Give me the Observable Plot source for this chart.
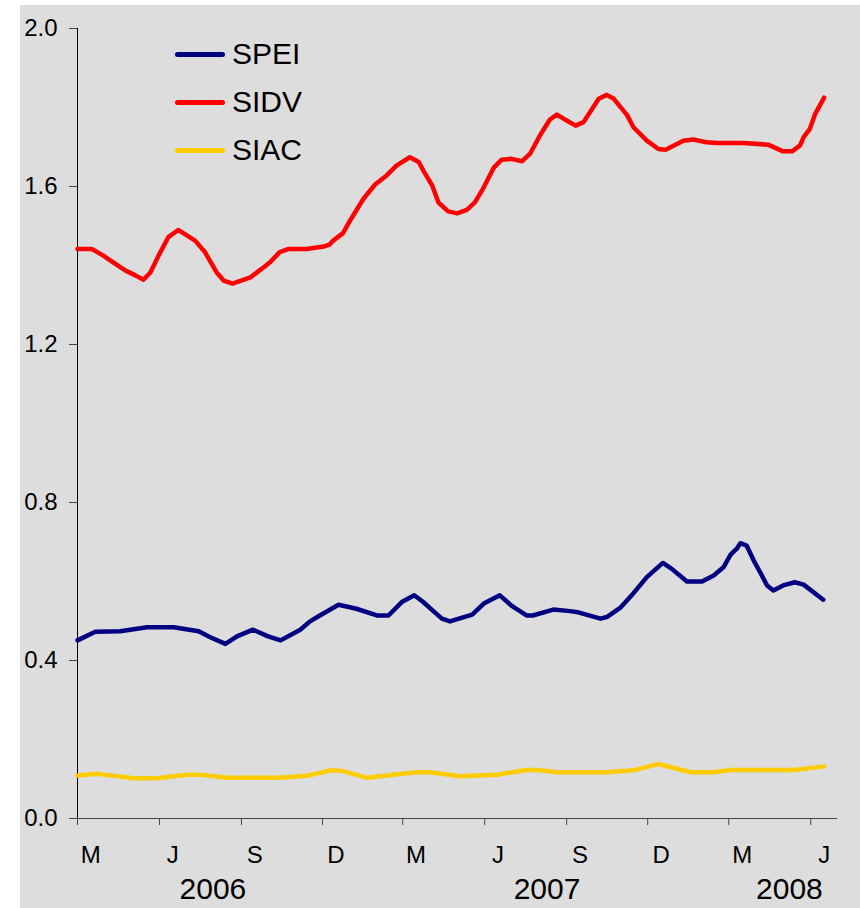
<!DOCTYPE html>
<html>
<head>
<meta charset="utf-8">
<script src="https://cdn.jsdelivr.net/npm/d3@7"></script>
<script src="https://cdn.jsdelivr.net/npm/@observablehq/plot@0.6"></script>
<style>
  body { margin: 0; background: #ffffff; font-family: "Liberation Sans", Arial, sans-serif; }
  #wrap { position: relative; width: 860px; height: 908px; background: #ffffff; }
  #chart { position: absolute; left: 20px; top: 5px; width: 840px; height: 903px; background: #DDDDDD; }
  #legend { position: absolute; left: 175px; top: 30px; }
  .row { display: flex; align-items: center; height: 48px; }
  .swatch { width: 50px; height: 5px; border-radius: 3px; margin-right: 7px; }
  .lab { font-size: 30px; color: #000; line-height: 30px; }
</style>
</head>
<body>
<div id="wrap">
  <div id="chart"></div>
  <div id="legend"></div>
</div>
<script>
// ---- data ----
const seriesNames = ["SPEI", "SIDV", "SIAC"];
const seriesColors = ["#000080", "#FF0000", "#FFCC00"];

const speiDates = ["2006-03-01","2006-03-21","2006-04-18","2006-05-18","2006-06-17","2006-07-15","2006-07-28","2006-08-14","2006-08-27","2006-09-14","2006-10-01","2006-10-15","2006-11-06","2006-11-17","2006-11-28","2006-12-19","2007-01-08","2007-01-31","2007-02-13","2007-02-28","2007-03-14","2007-03-24","2007-04-06","2007-04-14","2007-04-23","2007-05-18","2007-05-31","2007-06-18","2007-07-01","2007-07-18","2007-07-25","2007-08-17","2007-09-05","2007-09-14","2007-10-09","2007-10-16","2007-10-31","2007-11-13","2007-11-30","2007-12-18","2007-12-28","2008-01-14","2008-01-31","2008-02-13","2008-02-24","2008-03-03","2008-03-10","2008-03-14","2008-03-21","2008-03-29","2008-04-05","2008-04-13","2008-04-20","2008-05-01","2008-05-14","2008-05-24","2008-06-15"];
const speiValues = [0.451,0.473,0.474,0.484,0.484,0.474,0.459,0.442,0.461,0.478,0.461,0.451,0.478,0.499,0.514,0.541,0.531,0.514,0.514,0.548,0.565,0.548,0.522,0.506,0.499,0.516,0.544,0.565,0.539,0.514,0.514,0.529,0.525,0.522,0.506,0.510,0.533,0.565,0.611,0.647,0.632,0.600,0.600,0.615,0.636,0.668,0.683,0.697,0.691,0.653,0.624,0.590,0.577,0.590,0.598,0.592,0.554];

const sidvDates = ["2006-03-01","2006-03-17","2006-03-30","2006-04-10","2006-04-24","2006-05-05","2006-05-14","2006-05-22","2006-05-31","2006-06-11","2006-06-22","2006-07-11","2006-07-22","2006-08-04","2006-08-12","2006-08-22","2006-09-11","2006-09-24","2006-10-03","2006-10-14","2006-10-24","2006-11-13","2006-12-02","2006-12-09","2006-12-13","2006-12-24","2007-01-01","2007-01-16","2007-01-29","2007-02-11","2007-02-22","2007-03-09","2007-03-19","2007-03-24","2007-04-03","2007-04-10","2007-04-21","2007-05-01","2007-05-12","2007-05-21","2007-05-31","2007-06-11","2007-06-20","2007-07-01","2007-07-13","2007-07-22","2007-08-02","2007-08-13","2007-08-21","2007-09-01","2007-09-11","2007-09-20","2007-10-07","2007-10-16","2007-10-24","2007-11-08","2007-11-15","2007-11-30","2007-12-13","2007-12-21","2008-01-10","2008-01-21","2008-02-05","2008-02-17","2008-03-17","2008-04-14","2008-05-01","2008-05-11","2008-05-20","2008-05-24","2008-05-31","2008-06-06","2008-06-16"];
const sidvValues = [1.442,1.442,1.425,1.408,1.387,1.375,1.364,1.383,1.425,1.472,1.490,1.463,1.434,1.383,1.362,1.354,1.370,1.392,1.408,1.434,1.442,1.442,1.448,1.453,1.463,1.482,1.514,1.569,1.605,1.628,1.653,1.674,1.662,1.641,1.603,1.560,1.537,1.532,1.541,1.560,1.598,1.647,1.668,1.670,1.664,1.683,1.729,1.769,1.782,1.767,1.754,1.763,1.822,1.832,1.822,1.780,1.750,1.716,1.695,1.693,1.716,1.719,1.712,1.710,1.710,1.706,1.689,1.689,1.704,1.725,1.746,1.784,1.825];

const siacDates = ["2006-03-01","2006-03-23","2006-05-03","2006-05-29","2006-07-02","2006-07-17","2006-08-16","2006-10-14","2006-11-13","2006-12-11","2006-12-24","2007-01-20","2007-02-18","2007-03-17","2007-04-01","2007-05-04","2007-06-15","2007-07-18","2007-07-30","2007-08-21","2007-10-16","2007-11-15","2007-12-13","2008-01-18","2008-02-13","2008-03-03","2008-05-14","2008-06-16"];
const siacValues = [0.109,0.113,0.102,0.102,0.111,0.111,0.103,0.103,0.108,0.122,0.120,0.103,0.111,0.117,0.117,0.107,0.111,0.123,0.123,0.117,0.117,0.122,0.138,0.117,0.117,0.123,0.123,0.132];

const yTicks = [0, 0.4, 0.8, 1.2, 1.6, 2.0];
const xDomain = ["2006-03-01", "2008-07-01"];
const quarterTicks = ["2006-03-01","2006-06-01","2006-09-01","2006-12-01","2007-03-01","2007-06-01","2007-09-01","2007-12-01","2008-03-01","2008-06-01"];
const monthLabelDates = ["2006-03-16","2006-06-16","2006-09-16","2006-12-16","2007-03-16","2007-06-16","2007-09-16","2007-12-16","2008-03-16","2008-06-16"];
const monthLabels = ["M","J","S","D","M","J","S","D","M","J"];
const yearLabelDates = ["2006-07-31","2007-08-10","2008-05-08"];
const yearLabels = ["2006","2007","2008"];

// ---- build table ----
const P = s => new Date(s + "T00:00:00Z");
const data = [];
[[speiDates, speiValues], [sidvDates, sidvValues], [siacDates, siacValues]].forEach(([ds, vs], i) => {
  ds.forEach((d, j) => data.push({series: seriesNames[i], date: P(d), value: vs[j]}));
});

const monthMap = new Map(monthLabelDates.map((d, i) => [+P(d), monthLabels[i]]));
const yearMap = new Map(yearLabelDates.map((d, i) => [+P(d), yearLabels[i]]));

const chart = Plot.plot({
  width: 840,
  height: 903,
  marginLeft: 57,
  marginRight: 23,
  marginTop: 23,
  marginBottom: 90,
  style: {background: "transparent", fontFamily: "'Liberation Sans', Arial, sans-serif", color: "#000"},
  x: {type: "utc", domain: xDomain.map(P)},
  y: {domain: [0, 2.0]},
  color: {domain: seriesNames, range: seriesColors},
  marks: [
    Plot.axisY({ticks: yTicks, tickFormat: d3.format(".1f"), tickSize: 8, tickPadding: 12, fontSize: 24, stroke: "#444", label: null, color: "#000"}),
    Plot.axisX({ticks: quarterTicks.map(P), tickFormat: () => "", tickSize: 7, stroke: "#444", label: null}),
    Plot.axisX({ticks: monthLabelDates.map(P), tickFormat: d => monthMap.get(+d), tickSize: 0, tickPadding: 27, fontSize: 24, label: null}),
    Plot.axisX({ticks: yearLabelDates.map(P), tickFormat: d => yearMap.get(+d), tickSize: 0, tickPadding: 59, fontSize: 30, label: null}),
    Plot.ruleY([0], {stroke: "#444", strokeWidth: 1}),
    Plot.ruleX([P(xDomain[0])], {stroke: "#000", strokeWidth: 1}),
    Plot.line(data, {x: "date", y: "value", z: "series", stroke: "series", strokeWidth: 4.5, strokeLinejoin: "round", strokeLinecap: "round"})
  ]
});
document.getElementById("chart").appendChild(chart);

// legend
const legend = document.getElementById("legend");
seriesNames.forEach((n, i) => {
  const row = document.createElement("div");
  row.className = "row";
  row.innerHTML = `<span class="swatch" style="background:${seriesColors[i]}"></span><span class="lab">${n}</span>`;
  legend.appendChild(row);
});
</script>
</body>
</html>
